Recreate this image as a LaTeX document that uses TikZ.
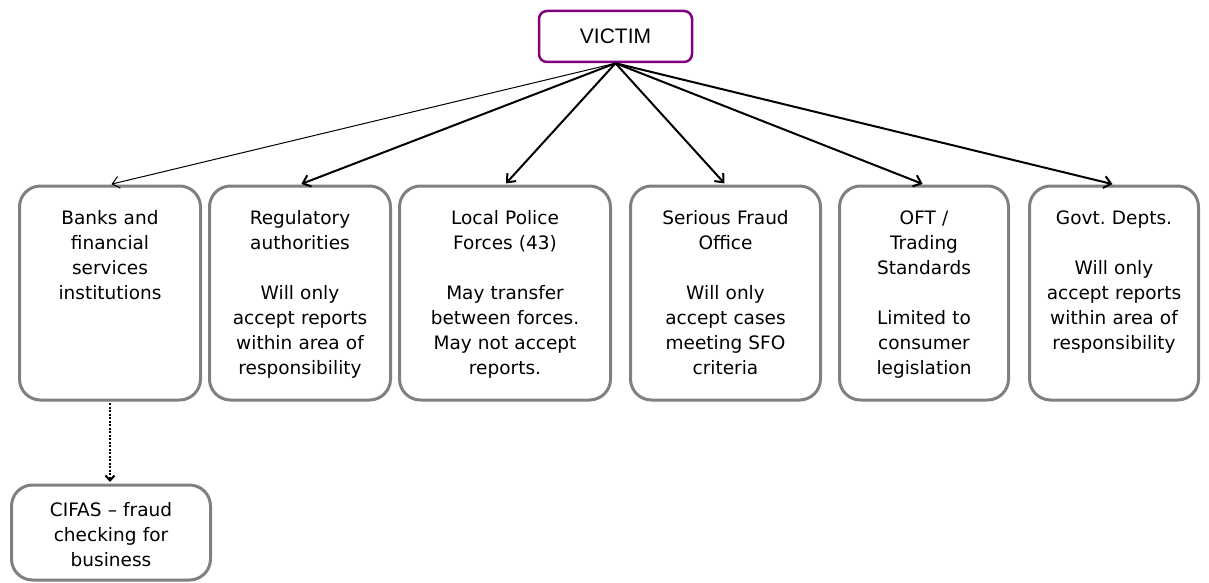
\documentclass[tikz,border=0pt]{standalone}
\usepackage{fontspec}
\setmainfont{DejaVu Sans}
\newfontfamily\arialfont{Liberation Sans}
\usetikzlibrary{arrows.meta}
\definecolor{victimpurple}{RGB}{128,0,128}
\definecolor{boxgray}{RGB}{128,128,128}
\frenchspacing

\begin{document}
\begin{tikzpicture}[x=1pt, y=-1pt,
	agency/.style={draw=boxgray, line width=3pt, rounded corners=21pt, align=center, anchor=north, inner xsep=0pt, inner ysep=0pt, text height=38pt, text depth=176pt, font=\fontsize{18.5}{25}\selectfont},
	link/.style={black, line width=2pt, -{Straight Barb[length=7pt, width=12pt]}, shorten >=1.5pt}]
	\useasboundingbox (0,0) rectangle (1209,583);

	\node[draw=victimpurple, line width=2.5pt, rounded corners=8pt, minimum width=153pt, minimum height=51pt, inner sep=0pt, font=\arialfont\fontsize{21}{25}\selectfont] (victim) at (615.5,36.5) {VICTIM};

	\node[agency, text width=181pt] (banks) at (110,184.5) {Banks and\\financial\\services\\institutions};
	\node[agency, text width=181pt] (regulatory) at (300,184.5) {Regulatory\\authorities\\[25pt]Will only\\accept reports\\within area of\\responsibility};
	\node[agency, text width=211pt] (police) at (505,184.5) {Local Police\\Forces (43)\\[25pt]May transfer\\between forces.\\May not accept\\reports.};
	\node[agency, text width=190pt] (sfo) at (725.5,184.5) {Serious Fraud\\Office\\[25pt]Will only\\accept cases\\meeting SFO\\criteria};
	\node[agency, text width=169pt] (oft) at (924,184.5) {OFT /\\Trading\\Standards\\[25pt]Limited to\\consumer\\legislation};
	\node[agency, text width=169pt] (govt) at (1114,184.5) {Govt. Depts.\\[25pt]Will only\\accept reports\\within area of\\responsibility};
	\node[agency, text width=199pt, text height=31.5pt, text depth=63.5pt] (cifas) at (111,483.5) {CIFAS -- fraud\\checking for\\business};

	\draw[link, line width=1pt] (victim.south) -- (banks.north);
	\draw[link] (victim.south) -- (regulatory.north);
	\draw[link] (victim.south) -- (police.north);
	\draw[link] (victim.south) -- (sfo.north);
	\draw[link] (victim.south) -- (oft.north);
	\draw[link] (victim.south) -- (govt.north);
	\draw[black, line width=2pt, dash pattern=on 2pt off 1.5pt, -{Straight Barb[length=5pt, width=9pt]}, shorten <=1.5pt, shorten >=1.5pt] (banks.south) -- (banks.south |- cifas.north);
\end{tikzpicture}
\end{document}
